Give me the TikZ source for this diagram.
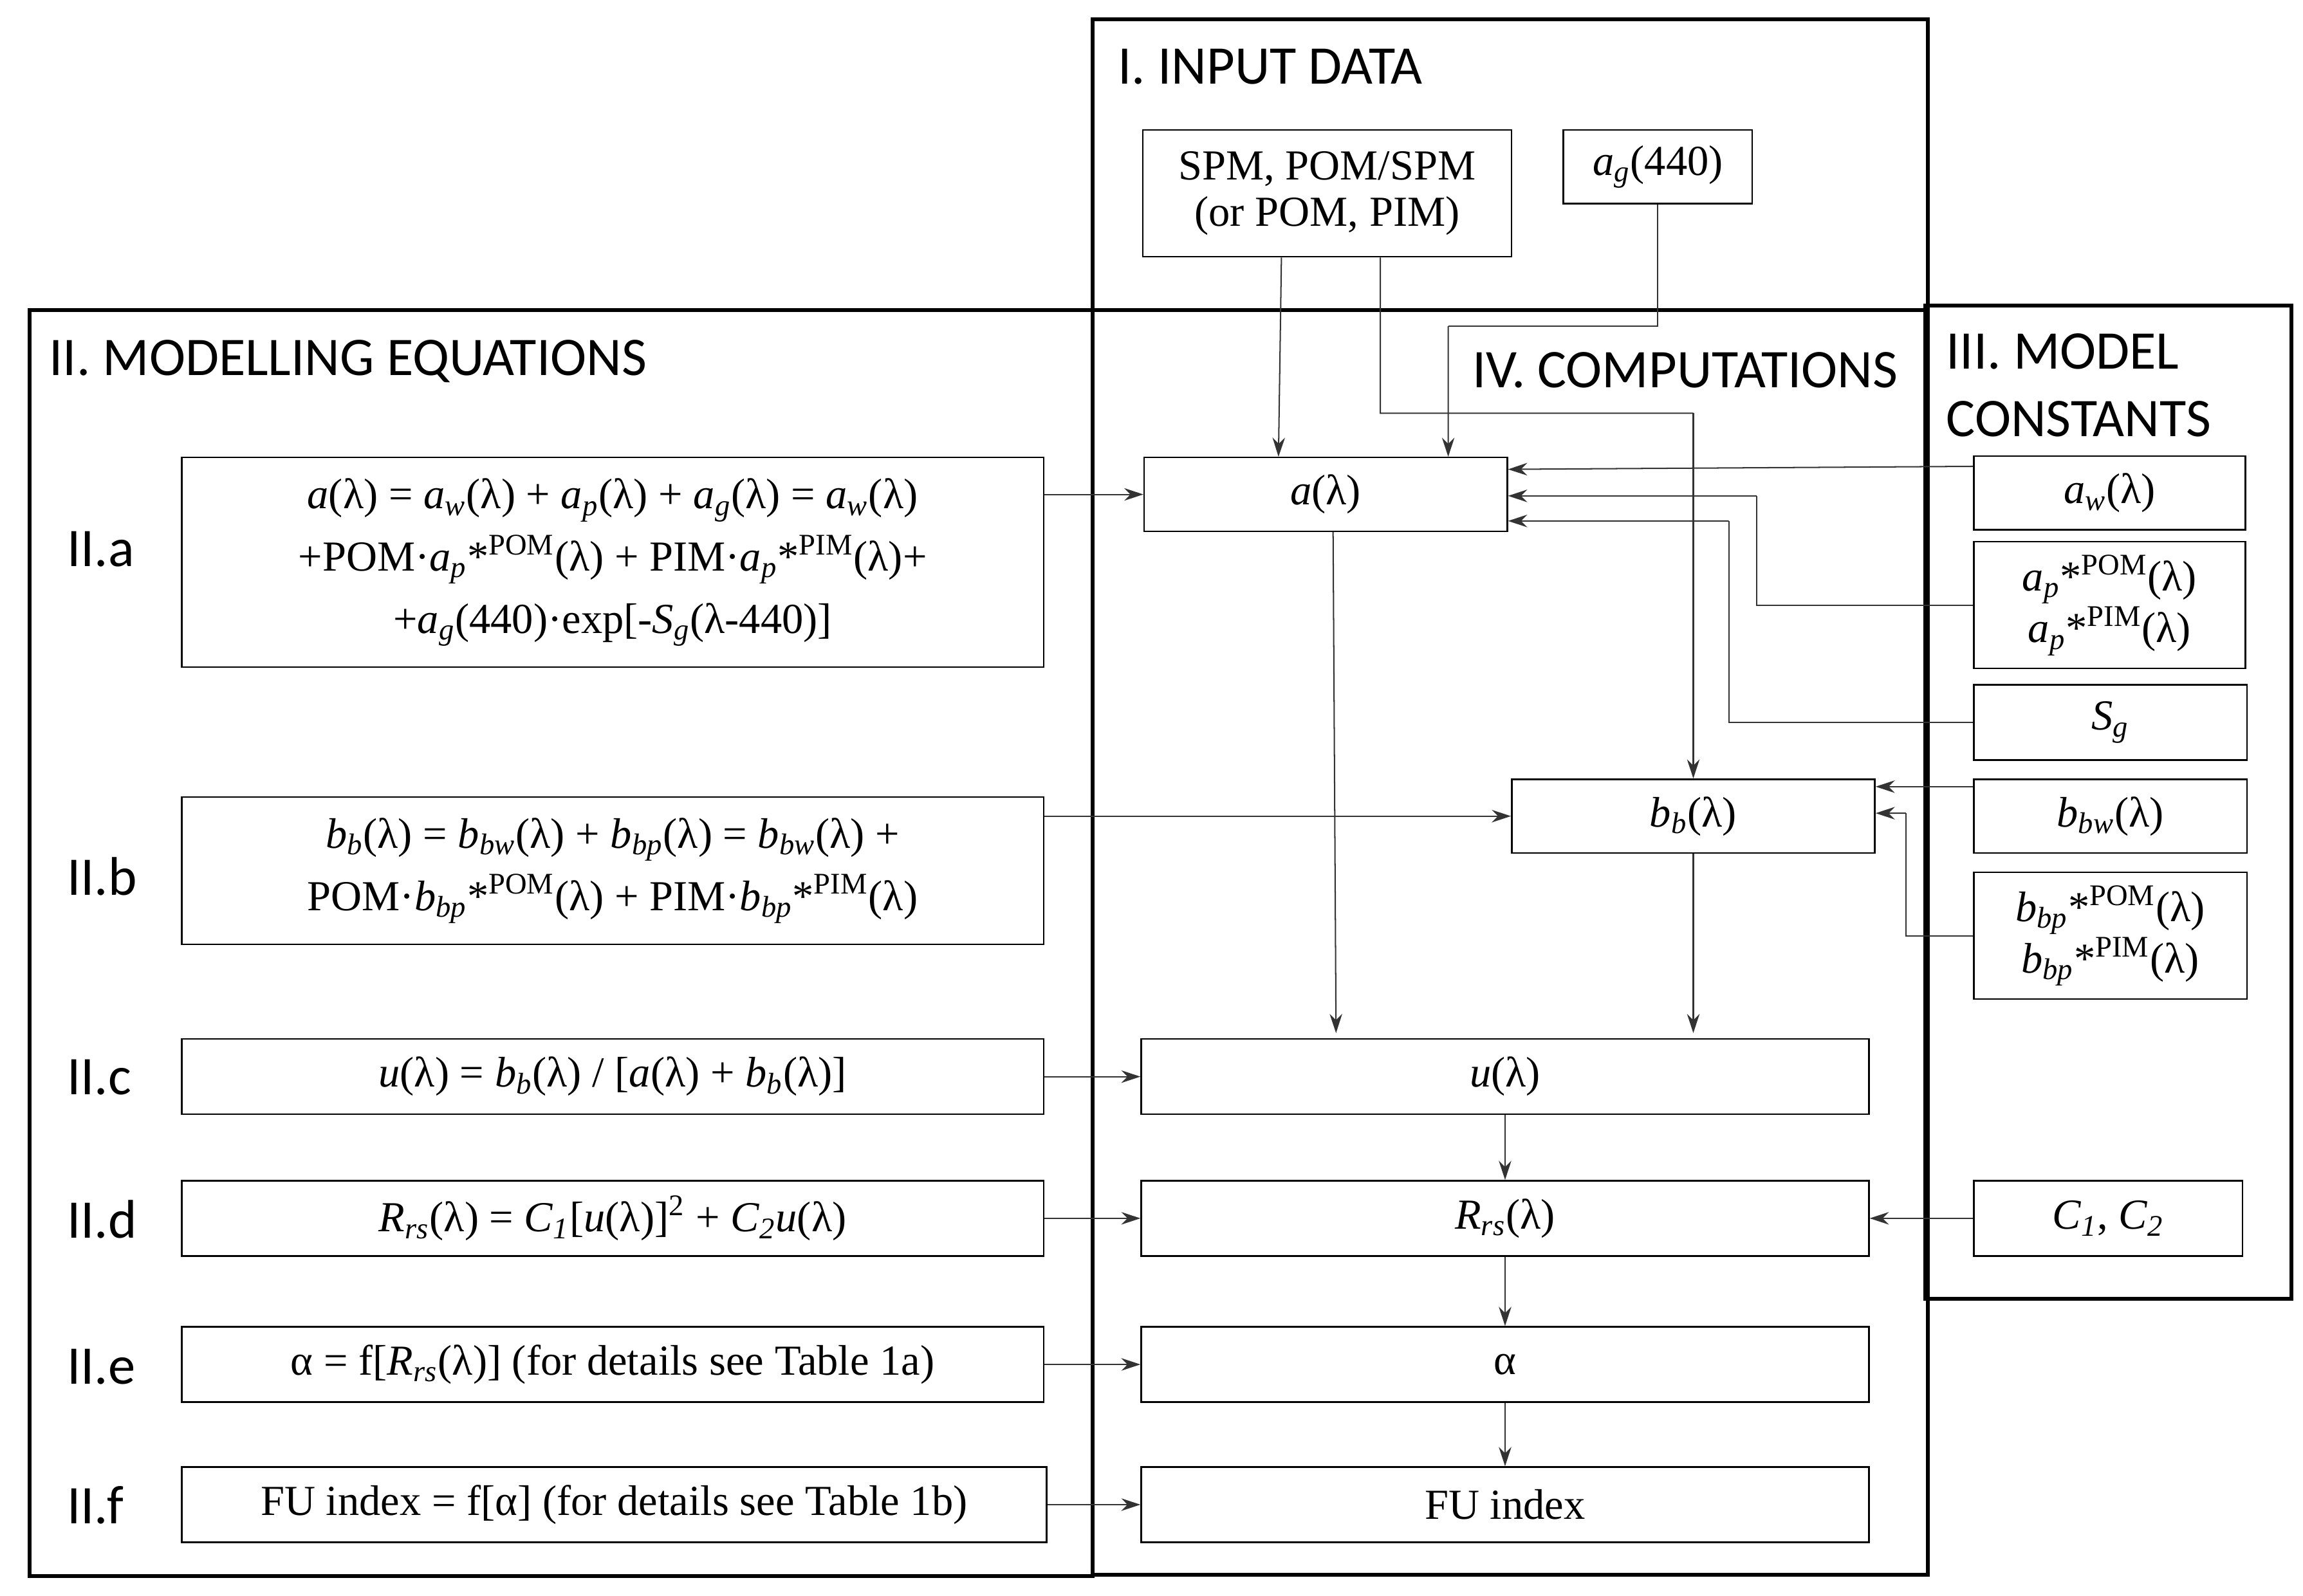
\documentclass[tikz,border=0pt]{standalone}
\usepackage{fontspec}
\setmainfont{Liberation Serif}
\newfontfamily\hdfont{Carlito}
\usetikzlibrary{arrows.meta}
\newcommand\isb[1]{\textsubscript{\textit{#1}}}
\newcommand\ssp[1]{\textsuperscript{#1}}
\begin{document}
\begin{tikzpicture}[x=0.02cm,y=-0.02cm,
  box/.style={draw,line width=0.6pt,inner sep=0pt,align=center,font=\fontsize{16.5}{20}\selectfont},
  frame/.style={line width=1.5pt},
  head/.style={anchor=west,inner sep=0pt,align=left,font=\hdfont\fontsize{21}{26}\selectfont},
  lab/.style={anchor=west,inner sep=0pt,font=\hdfont\fontsize{21}{26}\selectfont},
  arr/.style={line width=0.5pt,draw=black!80,-{Stealth[length=0.26cm,width=0.17cm]}},
  lin/.style={line width=0.5pt,draw=black!80}]
\useasboundingbox (0,0) rectangle (1560,1081);
% frames
\draw[frame] (20,210) rectangle (740,1068);
\draw[frame] (740,13) rectangle (1306,1067);
\draw[frame] (1304,207) rectangle (1552,880);
\draw[frame] (740,210) -- (1304,210);
% headings
\node[head] (h1) at (757,45) {I. INPUT DATA};
\node[head] (h2) at (33,245) {II. MODELLING EQUATIONS};
\node[head] (h4) at (997,251) {IV. COMPUTATIONS};
\node[head] (h3) at (1318,261) {III. MODEL\\CONSTANTS};
% row labels
\node[lab] (la) at (45,372) {II.a};
\node[lab] (lb) at (45,594) {II.b};
\node[lab] (lc) at (45,730) {II.c};
\node[lab] (ld) at (45,826) {II.d};
\node[lab] (le) at (45,926) {II.e};
\node[lab] (lf) at (45,1020) {II.f};
% input data
\node[box,minimum width=5cm,minimum height=1.72cm,font=\fontsize{16.5}{18}\selectfont] (spm) at (899,131) {SPM, POM/SPM\\(or POM, PIM)};
\node[box,minimum width=2.56cm,minimum height=1cm] (ag) at (1123,113) {\textit{a}\isb{g}(440)};
% computations
\node[box,minimum width=4.92cm,minimum height=1cm] (a) at (898,335) {\textit{a}(λ)};
\node[box,minimum width=4.92cm,minimum height=1cm] (bb) at (1147,553) {\textit{b}\isb{b}(λ)};
\node[box,minimum width=9.86cm,minimum height=1.02cm] (u) at (1019.5,729.5) {\textit{u}(λ)};
\node[box,minimum width=9.86cm,minimum height=1.02cm] (rrs) at (1019.5,825.5) {\textit{R}\isb{rs}(λ)};
\node[box,minimum width=9.86cm,minimum height=1.02cm] (al) at (1019.5,924.5) {α};
\node[box,minimum width=9.86cm,minimum height=1.02cm] (fu) at (1019.5,1019.5) {FU index};
% equations
\node[box,minimum width=11.68cm,minimum height=2.84cm,font=\fontsize{16.5}{24}\selectfont] (eqa) at (415,381)
 {\textit{a}(λ) = \textit{a}\isb{w}(λ) + \textit{a}\isb{p}(λ) + \textit{a}\isb{g}(λ) = \textit{a}\isb{w}(λ)\\
  +POM·\textit{a}\isb{p}*\ssp{POM}(λ) + PIM·\textit{a}\isb{p}*\ssp{PIM}(λ)+\\
  +\textit{a}\isb{g}(440)·exp[-\textit{S}\isb{g}(λ-440)]};
\node[box,minimum width=11.68cm,minimum height=2cm,font=\fontsize{16.5}{24}\selectfont] (eqb) at (415,590)
 {\textit{b}\isb{b}(λ) = \textit{b}\isb{bw}(λ) + \textit{b}\isb{bp}(λ) = \textit{b}\isb{bw}(λ) +\\
  POM·\textit{b}\isb{bp}*\ssp{POM}(λ) + PIM·\textit{b}\isb{bp}*\ssp{PIM}(λ)};
\node[box,minimum width=11.68cm,minimum height=1.02cm] (eqc) at (415,729.5)
 {\textit{u}(λ) = \textit{b}\isb{b}(λ) / [\textit{a}(λ) + \textit{b}\isb{b}(λ)]};
\node[box,minimum width=11.68cm,minimum height=1.02cm] (eqd) at (415,825.5)
 {\textit{R}\isb{rs}(λ) = \textit{C}\isb{1}[\textit{u}(λ)]\ssp{2} + \textit{C}\isb{2}\textit{u}(λ)};
\node[box,minimum width=11.68cm,minimum height=1.02cm] (eqe) at (415,924.5)
 {α = f[\textit{R}\isb{rs}(λ)] (for details see Table 1a)};
\node[box,minimum width=11.72cm,minimum height=1.02cm] (eqf) at (416,1019.5)
 {FU index = f[α] (for details see Table 1b)};
% model constants
\node[box,minimum width=3.68cm,minimum height=1cm] (aw) at (1429,334) {\textit{a}\isb{w}(λ)};
\node[box,minimum width=3.68cm,minimum height=1.72cm,font=\fontsize{16.5}{18}\selectfont] (ap) at (1429,410) {\textit{a}\isb{p}*\ssp{POM}(λ)\\\textit{a}\isb{p}*\ssp{PIM}(λ)};
\node[box,minimum width=3.7cm,minimum height=1.02cm] (sg) at (1429.5,489.5) {\textit{S}\isb{g}};
\node[box,minimum width=3.7cm,minimum height=1cm] (bbw) at (1429.5,553) {\textit{b}\isb{bw}(λ)};
\node[box,minimum width=3.7cm,minimum height=1.72cm,font=\fontsize{16.5}{18}\selectfont] (bbp) at (1429.5,634) {\textit{b}\isb{bp}*\ssp{POM}(λ)\\\textit{b}\isb{bp}*\ssp{PIM}(λ)};
\node[box,minimum width=3.64cm,minimum height=1.02cm] (cc) at (1428,825.5) {\textit{C}\isb{1}, \textit{C}\isb{2}};
% connectors
\draw[arr] ([xshift=-0.62cm]spm.south) -- ([xshift=-0.64cm]a.north);
\draw[lin] (ag.south) -- (1123,221) -- (981,221);
\draw[arr] (981,221) -- ([xshift=1.66cm]a.north);
\draw[lin] ([xshift=0.72cm]spm.south) -- (935,280) -- (1147,280);
\draw[arr] (1147,280) -- (bb.north);
\draw[arr] (eqa.east |- a.west) -- (a.west);
\draw[arr] ([yshift=0.36cm]aw.west) -- ([yshift=0.34cm]a.east);
\draw[lin] (ap.west) -- (1190,410) -- (1190,336);
\draw[arr] (1190,336) -- ([yshift=-0.02cm]a.east);
\draw[lin] (sg.west) -- (1171,489.5) -- (1171,353);
\draw[arr] (1171,353) -- ([yshift=-0.36cm]a.east);
\draw[arr] (eqb.east |- bb.west) -- (bb.west);
\draw[arr] ([yshift=0.4cm]bbw.west) -- ([yshift=0.4cm]bb.east);
\draw[lin] (bbp.west) -- (1291,634) -- (1291,551);
\draw[arr] (1291,551) -- ([yshift=0.04cm]bb.east);
\draw[arr] ([xshift=0.1cm]a.south) -- (905,700);
\draw[arr] (bb.south) -- (1147,700);
\draw[arr] (eqc) -- (u);
\draw[arr] (eqd) -- (rrs);
\draw[arr] (eqe) -- (al);
\draw[arr] (eqf) -- (fu);
\draw[arr] (u) -- (rrs);
\draw[arr] (rrs) -- (al);
\draw[arr] (al) -- (fu);
\draw[arr] (cc) -- (rrs);
\end{tikzpicture}
\end{document}
